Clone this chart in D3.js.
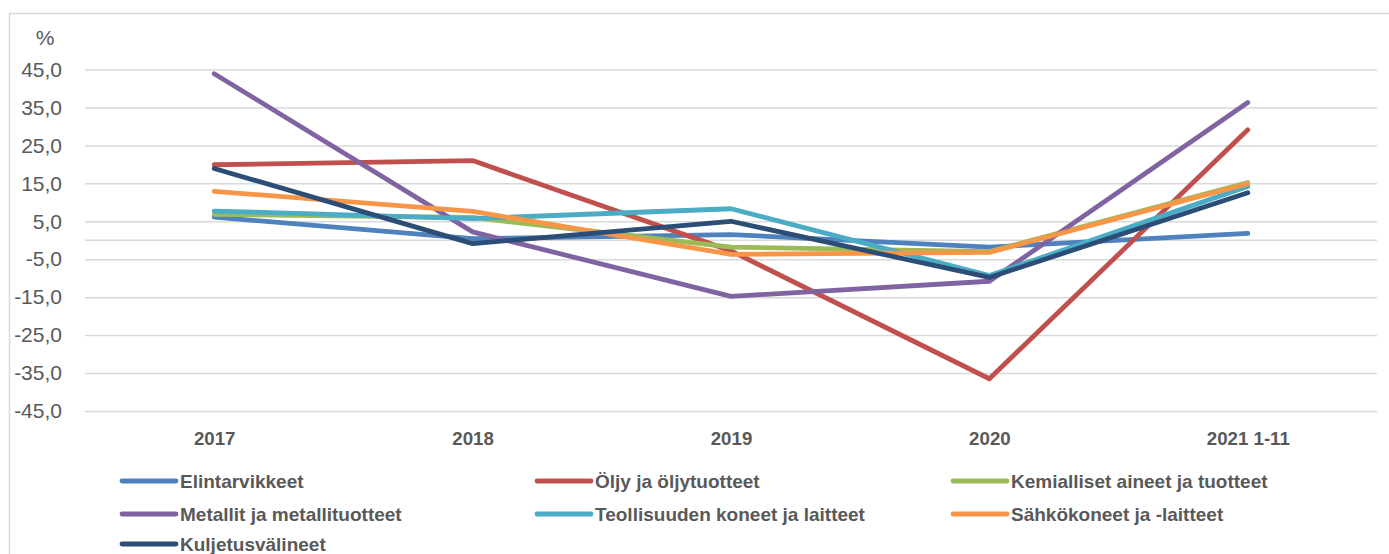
<!DOCTYPE html>
<html>
<head>
<meta charset="utf-8">
<script src="https://cdn.jsdelivr.net/npm/d3@7"></script>
<style>
  html, body { margin: 0; padding: 0; background: #fff; }
  svg { display: block; font-family: "Liberation Sans", Arial, sans-serif; }
</style>
</head>
<body>
<svg id="chart" width="1389" height="554"></svg>
<script>
const categories = ["2017", "2018", "2019", "2020", "2021 1-11"];
const yTicks = [45, 35, 25, 15, 5, -5, -15, -25, -35, -45];

const seriesNames = [
  "Elintarvikkeet",
  "Öljy ja öljytuotteet",
  "Kemialliset aineet ja tuotteet",
  "Metallit ja metallituotteet",
  "Teollisuuden koneet ja laitteet",
  "Sähkökoneet ja -laitteet",
  "Kuljetusvälineet"
];
const elintarvikkeet = [6.1, 0.4, 1.5, -1.8, 1.8];
const oljy = [19.9, 21.0, -2.8, -36.5, 29.1];
const kemialliset = [6.8, 6.0, -1.8, -3.0, 15.2];
const metallit = [43.9, 2.2, -14.8, -10.8, 36.3];
const teollisuuden = [7.7, 5.7, 8.3, -9.3, 14.2];
const sahko = [12.9, 7.6, -3.7, -3.2, 14.9];
const kuljetus = [18.9, -0.9, 5.0, -9.8, 12.5];
const seriesValues = [elintarvikkeet, oljy, kemialliset, metallit, teollisuuden, sahko, kuljetus];
const colors = ["#4F81BD", "#C0504D", "#9BBB59", "#8064A2", "#4BACC6", "#F79646", "#2C4D75"];

const svg = d3.select("#chart");
const plotLeft = 85, plotRight = 1377, plotTop = 69.5, plotBottom = 411;

// outer border
svg.append("rect")
  .attr("x", 9.5).attr("y", 13.5)
  .attr("width", 1400).attr("height", 600)
  .attr("fill", "none").attr("stroke", "#d9d9d9").attr("stroke-width", 1.5);

const x = d3.scalePoint().domain(categories).range([plotLeft, plotRight]).padding(0.5);
const y = d3.scaleLinear().domain([-45, 45]).range([plotBottom, plotTop]);

// y axis with gridlines
const yAxis = d3.axisLeft(y)
  .tickValues(yTicks)
  .tickSizeInner(-(plotRight - plotLeft))
  .tickSizeOuter(0)
  .tickPadding(23)
  .tickFormat(d => d3.format(".1f")(d).replace(".", ",").replace("−", "-"));
const gy = svg.append("g").attr("transform", `translate(${plotLeft},0)`).call(yAxis);
gy.select(".domain").remove();
gy.selectAll(".tick line").attr("stroke", "#d9d9d9").attr("stroke-width", 1.5);
gy.selectAll(".tick text").attr("fill", "#595959").attr("font-size", 21);

// zero (category axis) line
svg.append("line")
  .attr("x1", plotLeft).attr("x2", plotRight)
  .attr("y1", y(0)).attr("y2", y(0))
  .attr("stroke", "#d9d9d9").attr("stroke-width", 1.5);

// % label
svg.append("text").attr("x", 45).attr("y", 45)
  .attr("text-anchor", "middle").attr("fill", "#595959").attr("font-size", 21)
  .text("%");

// x axis labels
const xAxis = d3.axisBottom(x).tickSize(0).tickPadding(20.5);
const gx = svg.append("g").attr("transform", `translate(0,${plotBottom})`).call(xAxis);
gx.select(".domain").remove();
gx.selectAll(".tick text").attr("fill", "#595959").attr("font-size", 18.7).attr("font-weight", "bold");

// lines
const line = d3.line().x((d, i) => x(categories[i])).y(d => y(d));
seriesValues.forEach((vals, k) => {
  svg.append("path")
    .datum(vals)
    .attr("d", line)
    .attr("fill", "none")
    .attr("stroke", colors[k])
    .attr("stroke-width", 4.8)
    .attr("stroke-linecap", "round")
    .attr("stroke-linejoin", "round");
});

// legend
const colX = [122, 537, 953];
const rowY = [481, 514, 544];
seriesNames.forEach((name, k) => {
  const cx = colX[k % 3], cy = rowY[Math.floor(k / 3)];
  const g = svg.append("g").attr("transform", `translate(${cx},${cy})`);
  g.append("line").attr("x1", 0).attr("x2", 54).attr("y1", 0).attr("y2", 0)
    .attr("stroke", colors[k]).attr("stroke-width", 4.8).attr("stroke-linecap", "round");
  g.append("text").attr("x", 58).attr("y", 0).attr("dy", "0.35em")
    .attr("fill", "#595959").attr("font-size", 19).attr("font-weight", "bold")
    .text(name);
});
</script>
</body>
</html>
